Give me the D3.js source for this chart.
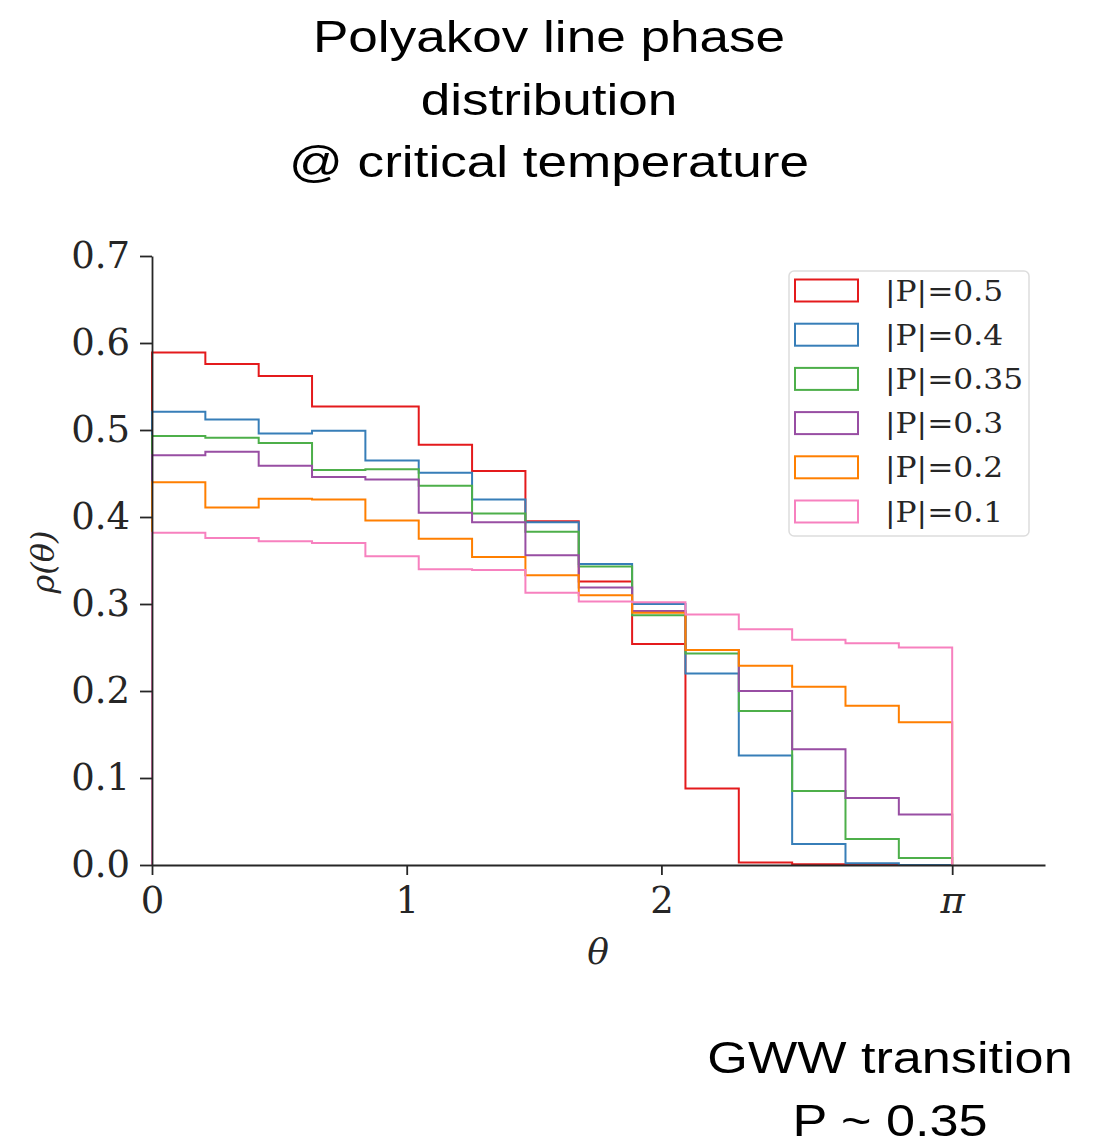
<!DOCTYPE html>
<html>
<head>
<meta charset="utf-8">
<script src="https://cdn.jsdelivr.net/npm/d3@7"></script>
<style>
  body { margin: 0; background: #fff; }
  svg { display: block; }
</style>
</head>
<body>
<div id="chart"></div>
<script>
// bin heights, 15 bins between 0 and pi
var labels = ['|P|=0.5', '|P|=0.4', '|P|=0.35', '|P|=0.3', '|P|=0.2', '|P|=0.1'];
var colors = ['#e41a1c', '#377eb8', '#4daf4a', '#984ea3', '#ff7f00', '#f781bf'];
var p05 = [0.589, 0.576, 0.562, 0.527, 0.527, 0.483, 0.453, 0.395, 0.326, 0.254, 0.088, 0.003, 0.001, 0, 0];
var p04 = [0.521, 0.512, 0.496, 0.499, 0.465, 0.451, 0.420, 0.394, 0.346, 0.300, 0.220, 0.126, 0.024, 0.002, 0];
var p035 = [0.493, 0.491, 0.485, 0.454, 0.455, 0.436, 0.404, 0.383, 0.343, 0.287, 0.243, 0.177, 0.085, 0.030, 0.008];
var p03 = [0.471, 0.475, 0.459, 0.446, 0.443, 0.405, 0.394, 0.356, 0.319, 0.292, 0.247, 0.200, 0.133, 0.077, 0.058];
var p02 = [0.440, 0.411, 0.421, 0.420, 0.396, 0.375, 0.354, 0.333, 0.310, 0.290, 0.247, 0.229, 0.205, 0.183, 0.164];
var p01 = [0.382, 0.376, 0.372, 0.370, 0.355, 0.340, 0.339, 0.313, 0.303, 0.302, 0.288, 0.271, 0.259, 0.255, 0.250];
var series = [p05, p04, p035, p03, p02, p01];
var xTicks = [0, 1, 2, Math.PI];
var xTickLabels = ['0', '1', '2', 'π'];
var yTicks = [0, 0.1, 0.2, 0.3, 0.4, 0.5, 0.6, 0.7];
var titleLines = ['Polyakov line phase', 'distribution', '@ critical temperature'];
var noteLines = ['GWW transition', 'P ~ 0.35'];

var W = 1105, H = 1145;
var plotL = 152, plotT = 256, plotR = 1045, plotB = 865;

var svg = d3.select('#chart').append('svg')
	.attr('width', W)
	.attr('height', H);

var x = d3.scaleLinear().domain([0, 3.506]).range([plotL, plotR]);
var y = d3.scaleLinear().domain([0, 0.7]).range([plotB, plotT]);

// title
svg.selectAll('.title')
	.data(titleLines)
	.enter().append('text')
	.attr('transform', function(d, i){ return 'translate(549,' + (52 + i * 62.5) + ') scale(1.18,1)'; })
	.attr('text-anchor', 'middle')
	.style('font-family', 'Liberation Sans, Arial, sans-serif')
	.style('font-size', '45px')
	.style('fill', '#000')
	.text(function(d){ return d; });

// note at bottom right
svg.selectAll('.note')
	.data(noteLines)
	.enter().append('text')
	.attr('transform', function(d, i){ return 'translate(890,' + (1073 + i * 63) + ') scale(1.16,1)'; })
	.attr('text-anchor', 'middle')
	.style('font-family', 'Liberation Sans, Arial, sans-serif')
	.style('font-size', '45px')
	.style('fill', '#000')
	.text(function(d){ return d; });

// histogram outlines, step style
var edges = d3.range(16).map(function(i){ return i * Math.PI / 15; });
function stepPts(vals) {
	var pts = [[edges[0], 0]];
	vals.forEach(function(v, i){
		pts.push([edges[i], v]);
		pts.push([edges[i + 1], v]);
	});
	pts.push([edges[15], 0]);
	return pts;
}
var line = d3.line().x(function(d){ return x(d[0]); }).y(function(d){ return y(d[1]); });

svg.append('g').selectAll('path')
	.data(series)
	.enter().append('path')
	.attr('d', function(d){ return line(stepPts(d)); })
	.style('fill', 'none')
	.style('stroke', function(d, i){ return colors[i]; })
	.style('stroke-width', 2)
	.style('stroke-linejoin', 'miter');

// axes
var yAxis = svg.append('g')
	.attr('transform', 'translate(' + plotL + ',0)')
	.call(d3.axisLeft(y).tickValues(yTicks).tickFormat(d3.format('.1f')).tickSize(12).tickPadding(10).tickSizeOuter(0));
var xAxis = svg.append('g')
	.attr('transform', 'translate(0,' + plotB + ')')
	.call(d3.axisBottom(x).tickValues(xTicks).tickFormat(function(d, i){ return xTickLabels[i]; }).tickSize(10).tickPadding(12).tickSizeOuter(0));

[yAxis, xAxis].forEach(function(ax){
	ax.select('.domain').style('stroke', '#262626').style('stroke-width', 1.8);
	ax.selectAll('.tick line').style('stroke', '#262626').style('stroke-width', 1.8);
	ax.selectAll('.tick text')
		.style('font-family', 'DejaVu Serif, serif')
		.style('font-size', '37px')
		.style('fill', '#262626');
});
xAxis.selectAll('.tick text').filter(function(d, i){ return i === 3; }).style('font-style', 'italic');

// axis labels
svg.append('text')
	.attr('x', 598)
	.attr('y', 964)
	.attr('text-anchor', 'middle')
	.style('font-family', 'DejaVu Serif, serif')
	.style('font-style', 'italic')
	.style('font-size', '36px')
	.style('fill', '#262626')
	.text('θ');
svg.append('text')
	.attr('transform', 'translate(54,562) rotate(-90)')
	.attr('text-anchor', 'middle')
	.style('font-family', 'DejaVu Serif, serif')
	.style('font-style', 'italic')
	.style('font-size', '32px')
	.style('fill', '#262626')
	.text('ρ(θ)');

// legend
var lg = svg.append('g');
lg.append('rect')
	.attr('x', 789).attr('y', 271)
	.attr('width', 240).attr('height', 265)
	.attr('rx', 5)
	.style('fill', '#fff')
	.style('fill-opacity', 0.8)
	.style('stroke', '#dddddd')
	.style('stroke-width', 1.5);
var row = lg.selectAll('.row')
	.data(labels)
	.enter().append('g')
	.attr('transform', function(d, i){ return 'translate(0,' + (290.5 + i * 44.2) + ')'; });
row.append('rect')
	.attr('x', 795).attr('y', -11)
	.attr('width', 63).attr('height', 22)
	.style('fill', 'none')
	.style('stroke', function(d, i){ return colors[i]; })
	.style('stroke-width', 2);
row.append('text')
	.attr('transform', 'translate(885,10) scale(1.16,1)')
	.style('font-family', 'DejaVu Serif, serif')
	.style('font-size', '27px')
	.style('fill', '#262626')
	.text(function(d){ return d; });
</script>
</body>
</html>
